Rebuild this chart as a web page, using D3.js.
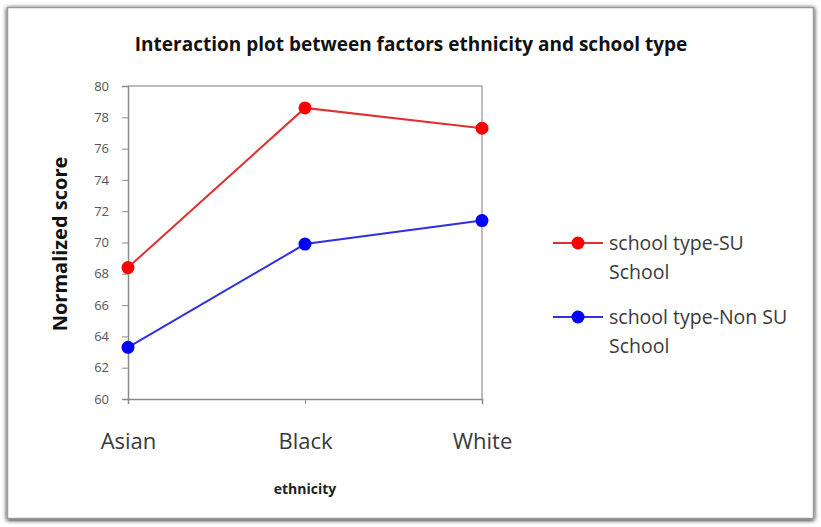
<!DOCTYPE html>
<html>
<head>
<meta charset="utf-8">
<script src="https://cdn.jsdelivr.net/npm/d3@7"></script>
<style>
  html, body { margin: 0; padding: 0; background: #fff; }
  svg { display: block; }
</style>
</head>
<body>
<svg id="chart" width="821" height="527"></svg>
<script>
// Interaction plot: mean normalized score by ethnicity for two school types
const categories = ["Asian", "Black", "White"];
const seriesNames = ["school type-SU School", "school type-Non SU School"];
const suSchool = [68.4, 78.6, 77.3];
const nonSuSchool = [63.3, 69.9, 71.4];
const yTicks = [60, 62, 64, 66, 68, 70, 72, 74, 76, 78, 80];
const seriesColors = ["#ff0000", "#0000ff"];
const seriesLines = ["#e03030", "#3030e0"];

const svg = d3.select("#chart");
const W = 821, H = 527;
const font = "'Open Sans', Lato, sans-serif";

// outer frame with a soft shadow
const defs = svg.append("defs");
const f = defs.append("filter").attr("id", "shadow").attr("x", "-5%").attr("y", "-5%").attr("width", "110%").attr("height", "110%");
f.append("feGaussianBlur").attr("in", "SourceAlpha").attr("stdDeviation", 2);
f.append("feOffset").attr("dx", 0).attr("dy", 1).attr("result", "b");
const fm = f.append("feMerge");
fm.append("feMergeNode").attr("in", "b");
fm.append("feMergeNode").attr("in", "SourceGraphic");

svg.append("rect").attr("width", W).attr("height", H).attr("fill", "#fff");
svg.append("rect")
  .attr("x", 7.5).attr("y", 7.5).attr("width", 806).attr("height", 511)
  .attr("fill", "#fff").attr("stroke", "#9a9a9a").attr("stroke-width", 1.5)
  .attr("filter", "url(#shadow)");

const plot = { left: 128, right: 482, top: 86, bottom: 399 };

const x = d3.scalePoint().domain(categories).range([plot.left, plot.right]);
const y = d3.scaleLinear().domain([60, 80]).range([plot.bottom, plot.top]);

// title
svg.append("text")
  .attr("x", 411).attr("y", 51)
  .attr("text-anchor", "middle")
  .attr("font-family", font).attr("font-weight", "bold").attr("font-size", 19)
  .attr("fill", "#111")
  .text("Interaction plot between factors ethnicity and school type");

// plot-area frame (top and right edges)
svg.append("path")
  .attr("d", `M${plot.left},${plot.top}H${plot.right}V${plot.bottom}`)
  .attr("fill", "none").attr("stroke", "#a8a8a8").attr("stroke-width", 1.5);

// y axis
const yAxis = svg.append("g")
  .attr("transform", `translate(${plot.left},0)`)
  .call(d3.axisLeft(y).tickValues(yTicks).tickSize(6).tickPadding(13).tickFormat(d3.format("d")));
yAxis.select(".domain").attr("stroke", "#8a8a8a").attr("stroke-width", 1.5);
yAxis.selectAll(".tick line").attr("stroke", "#8a8a8a");
yAxis.selectAll(".tick text")
  .attr("font-family", font).attr("font-size", 13).attr("fill", "#555");

// x axis
const xAxis = svg.append("g")
  .attr("transform", `translate(0,${plot.bottom})`)
  .call(d3.axisBottom(x).tickSize(5).tickPadding(29));
xAxis.select(".domain").attr("stroke", "#8a8a8a").attr("stroke-width", 1.5);
xAxis.selectAll(".tick line").attr("stroke", "#8a8a8a");
xAxis.selectAll(".tick text")
  .attr("font-family", font).attr("font-size", 22).attr("fill", "#3a3a3a");

// axis titles
svg.append("text")
  .attr("transform", `translate(67,244) rotate(-90)`)
  .attr("text-anchor", "middle")
  .attr("font-family", font).attr("font-weight", "bold").attr("font-size", 20)
  .attr("fill", "#111")
  .text("Normalized score");

svg.append("text")
  .attr("x", 305).attr("y", 494)
  .attr("text-anchor", "middle")
  .attr("font-family", font).attr("font-weight", "bold").attr("font-size", 14)
  .attr("fill", "#222")
  .text("ethnicity");

// series
const series = [suSchool, nonSuSchool];
const line = d3.line().x((d, i) => x(categories[i])).y(d => y(d));
series.forEach((vals, s) => {
  svg.append("path")
    .attr("d", line(vals))
    .attr("fill", "none").attr("stroke", seriesLines[s]).attr("stroke-width", 2);
  svg.selectAll(null).data(vals).enter().append("circle")
    .attr("cx", (d, i) => x(categories[i])).attr("cy", d => y(d))
    .attr("r", 6.5).attr("fill", seriesColors[s]);
});

// legend
const legendY = [243, 317];
series.forEach((vals, s) => {
  const g = svg.append("g").attr("transform", `translate(553,${legendY[s]})`);
  g.append("line").attr("x1", 0).attr("x2", 50).attr("y1", 0).attr("y2", 0)
    .attr("stroke", seriesLines[s]).attr("stroke-width", 2);
  g.append("circle").attr("cx", 25).attr("cy", 0).attr("r", 6.5).attr("fill", seriesColors[s]);
  const words = seriesNames[s].split(" ");
  const first = words.slice(0, -1).join(" ");
  const last = words[words.length - 1];
  const t = g.append("text")
    .attr("font-family", font).attr("font-size", 19.5).attr("fill", "#3a3a3a");
  t.append("tspan").attr("x", 56).attr("y", 7).text(first);
  t.append("tspan").attr("x", 56).attr("y", 36).text(last);
});
</script>
</body>
</html>
